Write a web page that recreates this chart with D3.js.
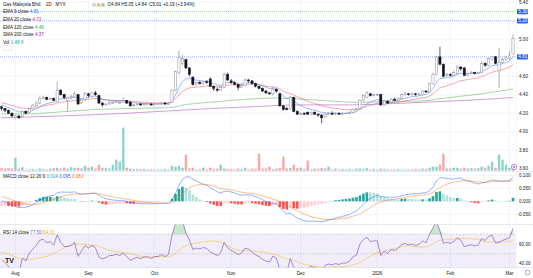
<!DOCTYPE html>
<html><head><meta charset="utf-8">
<script src="https://cdn.jsdelivr.net/npm/d3@7"></script>
<style>body{margin:0;background:#fff}svg{display:block;font-family:"Liberation Sans",Arial,sans-serif}</style>
</head><body><svg id="c" width="533" height="278"></svg>
<script>
// ---- data ----
const opens  = [4.27,4.25,4.23,4.20,4.15,4.17,4.16,4.22,4.21,4.25, 4.28,4.31,4.36,4.37,4.35,4.36,4.33,4.45,4.40,4.34, 4.37,4.38,4.40,4.31,4.35,4.41,4.38,4.42,4.39,4.31, 4.29,4.30,4.31,4.32,4.31,4.32,4.34,4.32,4.28,4.29, 4.30,4.29,4.30,4.30,4.29,4.30,4.30,4.31,4.30,4.32, 4.45,4.64,4.74,4.78,4.69,4.59,4.51,4.53,4.52,4.54, 4.57,4.49,4.46,4.45,4.48,4.62,4.55,4.53,4.51,4.48, 4.50,4.56,4.55,4.52,4.49,4.47,4.44,4.42,4.41,4.46, 4.41,4.28,4.25,4.25,4.37,4.22,4.19,4.20,4.21,4.19, 4.21,4.19,4.18,4.16,4.19,4.20,4.19,4.20,4.19,4.20, 4.20,4.21,4.24,4.25,4.34,4.37,4.41,4.39,4.40,4.40, 4.29,4.33,4.32,4.35,4.34,4.36,4.40,4.41,4.40,4.41, 4.40,4.40,4.44,4.43,4.52,4.62,4.81,4.73,4.61,4.62, 4.61,4.63,4.70,4.69,4.61,4.63,4.64,4.63,4.64,4.74, 4.72,4.78,4.81,4.66,4.75,4.78,4.79,4.84];
const highs  = [4.28,4.26,4.24,4.21,4.18,4.18,4.23,4.23,4.26,4.30, 4.33,4.38,4.39,4.38,4.37,4.37,4.54,4.46,4.41,4.38, 4.40,4.43,4.41,4.36,4.43,4.42,4.43,4.44,4.40,4.32, 4.31,4.33,4.33,4.34,4.34,4.37,4.34,4.33,4.30,4.31, 4.31,4.31,4.31,4.31,4.31,4.31,4.32,4.32,4.32,4.46, 4.66,4.88,4.83,4.79,4.70,4.60,4.54,4.55,4.55,4.56, 4.59,4.50,4.48,4.49,4.64,4.64,4.57,4.55,4.52,4.52, 4.58,4.57,4.56,4.53,4.50,4.48,4.45,4.43,4.49,4.47, 4.42,4.29,4.27,4.39,4.38,4.23,4.21,4.21,4.22,4.22, 4.22,4.20,4.19,4.20,4.21,4.22,4.21,4.21,4.21,4.21, 4.22,4.25,4.26,4.35,4.40,4.44,4.42,4.41,4.41,4.41, 4.34,4.34,4.36,4.37,4.37,4.41,4.43,4.42,4.42,4.42, 4.42,4.45,4.45,4.53,4.64,4.82,4.92,4.74,4.64,4.63, 4.66,4.72,4.71,4.70,4.64,4.66,4.65,4.65,4.76,4.75, 4.80,4.82,4.82,4.91,4.80,4.82,4.87,5.05];
const lows   = [4.23,4.21,4.19,4.16,4.14,4.14,4.15,4.19,4.20,4.24, 4.27,4.30,4.35,4.34,4.34,4.33,4.32,4.39,4.35,4.22, 4.35,4.37,4.29,4.30,4.34,4.37,4.37,4.39,4.30,4.27, 4.28,4.29,4.30,4.31,4.30,4.31,4.30,4.27,4.27,4.28, 4.28,4.28,4.29,4.28,4.28,4.29,4.29,4.29,4.29,4.31, 4.44,4.62,4.72,4.68,4.60,4.50,4.50,4.51,4.51,4.52, 4.49,4.44,4.43,4.44,4.47,4.55,4.52,4.50,4.45,4.47, 4.49,4.53,4.51,4.48,4.46,4.43,4.41,4.40,4.39,4.42, 4.27,4.23,4.23,4.24,4.21,4.18,4.18,4.18,4.18,4.18, 4.18,4.16,4.09,4.15,4.18,4.18,4.18,4.18,4.18,4.19, 4.19,4.20,4.23,4.24,4.33,4.36,4.38,4.38,4.39,4.28, 4.28,4.30,4.31,4.33,4.33,4.35,4.39,4.39,4.39,4.39, 4.39,4.39,4.42,4.42,4.51,4.61,4.72,4.59,4.60,4.60, 4.60,4.62,4.66,4.60,4.60,4.62,4.62,4.62,4.63,4.70, 4.71,4.77,4.73,4.47,4.74,4.77,4.78,4.84];
const closes = [4.25,4.23,4.20,4.17,4.17,4.15,4.22,4.20,4.25,4.28, 4.31,4.36,4.37,4.35,4.36,4.34,4.45,4.40,4.37,4.37, 4.38,4.41,4.30,4.35,4.41,4.39,4.42,4.40,4.31,4.29, 4.30,4.32,4.32,4.33,4.32,4.34,4.31,4.28,4.29,4.30, 4.29,4.30,4.30,4.29,4.30,4.30,4.31,4.30,4.31,4.45, 4.65,4.80,4.79,4.69,4.62,4.51,4.53,4.52,4.54,4.53, 4.49,4.47,4.45,4.48,4.62,4.56,4.53,4.51,4.48,4.50, 4.56,4.55,4.52,4.49,4.47,4.44,4.42,4.41,4.46,4.44, 4.28,4.24,4.24,4.37,4.22,4.19,4.20,4.19,4.19,4.21, 4.19,4.18,4.15,4.19,4.20,4.19,4.20,4.19,4.20,4.20, 4.21,4.24,4.25,4.34,4.39,4.42,4.39,4.40,4.40,4.29, 4.33,4.31,4.35,4.34,4.36,4.40,4.41,4.40,4.41,4.40, 4.41,4.44,4.43,4.52,4.62,4.81,4.73,4.60,4.62,4.61, 4.64,4.70,4.68,4.61,4.63,4.64,4.63,4.64,4.74,4.72, 4.79,4.81,4.74,4.75,4.78,4.80,4.82,5.01];
const volumesK = [0.74,0.59,0.74,0.59,3.82,0.59,1.03,0.29,0.29,0.44, 0.29,0.59,0.44,0.29,0.59,0.74,0.88,0.59,0.88,0.59, 1.03,0.74,0.88,0.59,1.47,0.88,1.18,0.59,1.76,0.88, 0.74,0.59,1.76,3.24,2.65,12.65,0.88,0.59,0.44,0.44, 0.44,0.44,0.29,0.44,0.29,0.29,0.29,0.44,0.29,1.47, 1.18,1.47,0.88,4.71,0.59,0.88,0.29,0.44,0.88,0.29, 0.88,0.44,0.59,1.76,0.59,0.44,0.44,0.29,0.59,0.44, 0.88,0.29,0.59,0.44,5.00,0.59,0.59,1.18,0.44,0.59, 0.88,4.12,0.59,0.74,1.76,0.74,0.88,0.44,2.94,0.29, 0.59,0.44,0.74,0.59,1.18,0.29,0.59,0.29,0.44,0.29, 0.44,0.29,0.59,0.59,0.44,0.74,0.29,0.44,0.29,0.59, 0.44,0.29,0.29,0.29,0.44,0.29,0.29,0.29,0.29,0.44, 0.29,0.59,0.44,0.88,1.18,1.18,1.76,5.00,0.59,0.59, 0.88,0.88,0.59,0.88,0.59,0.74,0.59,0.74,1.18,0.74, 1.47,2.65,0.88,4.71,3.24,1.76,0.88,1.48];
// SMA 200 read at sampled bars
const sma200Bars = [0,12,24,36,48,60,72,86,100,110,122,134,147];
const sma200Vals = [4.15,4.165,4.18,4.20,4.225,4.25,4.27,4.29,4.29,4.30,4.32,4.34,4.37];
// indicator state before the first visible bar
const emaSeeds = {e9:4.30, e20:4.32, e120:4.19, e12:4.285, e26:4.28, sig:0.024};
const rsiSeeds = {prevClose:4.27, avgGain:0.010, avgLoss:0.011, ma:52};
// axes
const monthLabels = ["Aug","Sep","Oct","Nov","Dec","2026","Feb","Mar"];
const monthBars   = [4,25,44,66,86,108,129,146];
const priceTicks  = [5.40,5.00,4.60,4.40,4.20,4.00,3.80,3.60];
const priceGrid   = [5.4,5.2,5.0,4.8,4.6,4.4,4.2,4.0,3.8,3.6];
const priceBoxes  = [5.30,5.20,4.81];
const macdTicks   = [0.1,0.05,0,-0.05];
const rsiTicks    = [60,40];
const rsiBands    = [70,50];
// legend texts
const titleText = "Gas Malaysia Bhd. · 1D · MYX";
const ohlcText  = [["O","4.84"],["H","5.05"],["L","4.84"],["C","5.01"],["","+0.19 (+3.94%)"]];
const maLegend  = [["EMA 9 close","4.81","#2962ff"],["EMA 20 close","4.73","#f23645"],["EMA 120 close","4.46","#43a047"],["SMA 200 close","4.37","#9c27b0"],["Vol","1.48 K","#26a69a"]];
const macdLegend = [["0.014","#26a69a"],["0.095","#2962ff"],["0.081","#ff6d00"]];
const rsiLegend  = [["77.50","#7e57c2"],["64.31","#f5b400"]];

// ---- derived indicators ----
function ema(arr,p,seed){const a=2/(p+1);let v=seed;return arr.map(c=>v=v+a*(c-v));}
const ema9=ema(closes,9,emaSeeds.e9), ema20=ema(closes,20,emaSeeds.e20), ema120=ema(closes,120,emaSeeds.e120);
const e12=ema(closes,12,emaSeeds.e12), e26=ema(closes,26,emaSeeds.e26);
const macd=e12.map((v,i)=>v-e26[i]);
const signal=ema(macd,9,emaSeeds.sig);
const hist=macd.map((v,i)=>v-signal[i]);
let ag=rsiSeeds.avgGain, al=rsiSeeds.avgLoss, pc=rsiSeeds.prevClose;
const rsi=closes.map(c=>{const d=c-pc;pc=c;ag=(ag*13+Math.max(d,0))/14;al=(al*13+Math.max(-d,0))/14;return 100-100/(1+ag/al);});
const rsiMa=rsi.map((v,i)=>{let s=0;for(let k=i-13;k<=i;k++)s+=k<0?rsiSeeds.ma:rsi[k];return s/14;});

// ---- drawing ----
const svg=d3.select("#c");
const N=closes.length, plotR=516;
const x=d3.scaleLinear().domain([0,N-1]).range([1.5,513]);
const yP=d3.scaleLinear().domain([4.0,5.0]).range([131.7,39.3]);
const yV=d3.scaleLinear().domain([0,13]).range([170.7,126.5]);
const yM=d3.scaleLinear().domain([0,0.1]).range([201.3,175.5]);
const yR=d3.scaleLinear().domain([40,60]).range([263.7,244]);
const panes={price:[0,171.5],macd:[171.5,224.5],rsi:[224.5,267.5]};
const defs=svg.append("defs");
Object.entries(panes).forEach(([k,[a,b]])=>defs.append("clipPath").attr("id","cl-"+k).append("rect").attr("x",0).attr("y",a).attr("width",plotR).attr("height",b-a));
svg.append("rect").attr("width",533).attr("height",278).attr("fill","#fff");

// grids
const g=svg.append("g");
g.selectAll(".vg").data(monthBars).join("line").attr("x1",d=>x(d)).attr("x2",d=>x(d)).attr("y1",0).attr("y2",267.5).attr("stroke","#f0f3fa").attr("stroke-width",0.8);
g.selectAll(".hg").data(priceGrid).join("line").attr("x1",0).attr("x2",plotR).attr("y1",d=>yP(d)).attr("y2",d=>yP(d)).attr("stroke","#f0f3fa").attr("stroke-width",0.8);
g.selectAll(".mg").data(macdTicks).join("line").attr("x1",0).attr("x2",plotR).attr("y1",d=>yM(d)).attr("y2",d=>yM(d)).attr("stroke","#f0f3fa").attr("stroke-width",0.8);
// separators
[171.5,224.5,267.5].forEach(y=>svg.append("line").attr("x1",0).attr("x2",533).attr("y1",y).attr("y2",y).attr("stroke","#e0e3eb").attr("stroke-width",0.8));
svg.append("line").attr("x1",plotR+0.5).attr("x2",plotR+0.5).attr("y1",0).attr("y2",278).attr("stroke","#f0f3fa").attr("stroke-width",0.6);

// price pane
const pp=svg.append("g").attr("clip-path","url(#cl-price)");
const up=i=>closes[i]>=opens[i];
pp.selectAll(".vol").data(volumesK).join("rect").attr("x",(d,i)=>x(i)-1.2).attr("width",2.4).attr("y",d=>yV(d)).attr("height",d=>yV(0)-yV(d)).attr("fill",(d,i)=>up(i)?"rgba(38,166,154,0.5)":"rgba(239,83,80,0.5)");
const line=(arr,sc)=>d3.line().x((d,i)=>x(i)).y(d=>sc(d))(arr);
pp.append("path").attr("d",d3.line().curve(d3.curveMonotoneX).x((d,i)=>x(sma200Bars[i])).y(d=>yP(d))(sma200Vals)).attr("fill","none").attr("stroke","#9c27b0").attr("stroke-opacity",0.45).attr("stroke-width",1);
pp.append("path").attr("d",line(ema120,yP)).attr("fill","none").attr("stroke","#4caf50").attr("stroke-opacity",0.5).attr("stroke-width",1);
pp.append("path").attr("d",line(ema20,yP)).attr("fill","none").attr("stroke","#f23645").attr("stroke-opacity",0.45).attr("stroke-width",1);
pp.append("path").attr("d",line(ema9,yP)).attr("fill","none").attr("stroke","#2962ff").attr("stroke-opacity",0.45).attr("stroke-width",1);
priceBoxes.forEach(v=>pp.append("line").attr("x1",0).attr("x2",plotR).attr("y1",yP(v)).attr("y2",yP(v)).attr("stroke","#2962ff").attr("stroke-opacity",0.7).attr("stroke-width",0.6).attr("stroke-dasharray","1,1"));
const cg=pp.selectAll(".cd").data(closes).join("g");
cg.append("line").attr("x1",(d,i)=>x(i)).attr("x2",(d,i)=>x(i)).attr("y1",(d,i)=>yP(highs[i])).attr("y2",(d,i)=>yP(lows[i])).attr("stroke",(d,i)=>up(i)?"#8a8d96":"#131722").attr("stroke-width",0.7);
cg.append("rect").attr("x",(d,i)=>x(i)-1.1).attr("width",2.2)
 .attr("y",(d,i)=>yP(Math.max(opens[i],d))).attr("height",(d,i)=>Math.max(0.6,Math.abs(yP(opens[i])-yP(d))))
 .attr("fill",(d,i)=>up(i)?"#ffffff":"#131722").attr("stroke",(d,i)=>up(i)?"#8a8d96":"#131722").attr("stroke-width",0.5);

// MACD pane
const mp=svg.append("g").attr("clip-path","url(#cl-macd)");
mp.selectAll(".h").data(hist).join("rect").attr("x",(d,i)=>x(i)-1.3).attr("width",2.6)
 .attr("y",d=>Math.min(yM(d),yM(0))).attr("height",d=>Math.abs(yM(d)-yM(0)))
 .attr("fill",(d,i)=>{const p=i?hist[i-1]:d;return d>=0?(d>p?"#26a69a":"#b2dfdb"):(d<p?"#ff5252":"#ffcdd2");});
mp.append("path").attr("d",line(macd,yM)).attr("fill","none").attr("stroke","#2962ff").attr("stroke-opacity",0.55).attr("stroke-width",0.9);
mp.append("path").attr("d",line(signal,yM)).attr("fill","none").attr("stroke","#ff6d00").attr("stroke-opacity",0.5).attr("stroke-width",0.9);

// RSI pane
const rp=svg.append("g").attr("clip-path","url(#cl-rsi)");
rp.append("rect").attr("x",0).attr("width",plotR).attr("y",yR(70)).attr("height",yR(30)-yR(70)).attr("fill","rgba(126,87,194,0.1)");
rsiBands.forEach(v=>rp.append("line").attr("x1",0).attr("x2",plotR).attr("y1",yR(v)).attr("y2",yR(v)).attr("stroke","#787b86").attr("stroke-opacity",0.6).attr("stroke-width",0.6).attr("stroke-dasharray","1.5,1.5"));
rp.append("path").attr("d",d3.area().x((d,i)=>x(i)).y0(yR(70)).y1(d=>yR(Math.max(d,70)))(rsi)).attr("fill","rgba(76,175,80,0.3)");
rp.append("path").attr("d",line(rsiMa,yR)).attr("fill","none").attr("stroke","#f5b400").attr("stroke-opacity",0.5).attr("stroke-width",0.9);
rp.append("path").attr("d",line(rsi,yR)).attr("fill","none").attr("stroke","#7e57c2").attr("stroke-opacity",0.75).attr("stroke-width",0.9);
rp.append("text").attr("x",5).attr("y",263).attr("font-size",7).attr("font-weight","bold").attr("fill","#131722").text("TV");

// right axis
const ax=svg.append("g").attr("font-size",4.6).attr("fill","#131722");
ax.selectAll(".pt").data(priceTicks).join("text").attr("x",519).attr("y",d=>yP(d)+1.6).text(d=>d.toFixed(2));
priceBoxes.forEach(v=>{ax.append("rect").attr("x",517).attr("y",yP(v)-2.6).attr("width",11).attr("height",5.2).attr("rx",0.8).attr("fill","#2962ff");
 ax.append("text").attr("x",518.3).attr("y",yP(v)+1.6).attr("fill","#fff").text(v.toFixed(2));});
ax.selectAll(".mt").data(macdTicks).join("text").attr("x",d=>d<0?517.5:519).attr("y",d=>yM(d)+1.6).text(d=>d.toFixed(3));
ax.selectAll(".rt").data(rsiTicks).join("text").attr("x",519).attr("y",d=>yR(d)+1.6).text(d=>d.toFixed(2));
svg.append("circle").attr("cx",514).attr("cy",167).attr("r",2.6).attr("fill","#fff").attr("stroke","#ab47bc").attr("stroke-width",0.7);
svg.append("circle").attr("cx",514).attr("cy",167).attr("r",0.9).attr("fill","#ab47bc");
svg.append("circle").attr("cx",527.5).attr("cy",272.5).attr("r",2.4).attr("fill","none").attr("stroke","#787b86").attr("stroke-width",0.6);
// time axis
svg.append("g").attr("font-size",4.6).attr("fill","#131722").attr("text-anchor","middle")
 .selectAll("text").data(monthLabels).join("text").attr("x",(d,i)=>x(monthBars[i])).attr("y",274.5).text(d=>d);

// legends
const lg=svg.append("g").attr("font-size",4.6).attr("fill","#131722");
lg.append("text").attr("x",3).attr("y",6).text(titleText);
lg.append("rect").attr("x",91.5).attr("y",2.6).attr("width",14).attr("height",4.6).attr("rx",2.3).attr("fill","#f0f3fa");
[["#b2b5be",94.2],["#ff9800",98.6],["#4caf50",103]].forEach(([c,cx])=>lg.append("circle").attr("cx",cx).attr("cy",4.9).attr("r",1.7).attr("fill",c).attr("fill-opacity",0.6));
let ox=107.5;
ohlcText.forEach(([k,v])=>{const t=lg.append("text").attr("x",ox).attr("y",6);t.append("tspan").text(k);t.append("tspan").text(v);ox+=(k+v).length*2.45+1.6;});
maLegend.forEach(([n,v,c],i)=>{const t=lg.append("text").attr("x",3).attr("y",13.3+i*7.7);t.append("tspan").attr("fill","#131722").text(n+" ");t.append("tspan").attr("fill",c).text(v);});
lg.append("rect").attr("x",3).attr("y",45.8).attr("width",9).attr("height",4.4).attr("rx",1).attr("fill","none").attr("stroke","#d1d4dc").attr("stroke-width",0.5);
const mt=lg.append("text").attr("x",3).attr("y",177.5);mt.append("tspan").text("MACD close 12 26 9 ");macdLegend.forEach(([v,c])=>mt.append("tspan").attr("fill",c).text(" "+v));
const rt=lg.append("text").attr("x",3).attr("y",234.2);rt.append("tspan").text("RSI 14 close ");rsiLegend.forEach(([v,c])=>rt.append("tspan").attr("fill",c).text(" "+v));
</script></body></html>
